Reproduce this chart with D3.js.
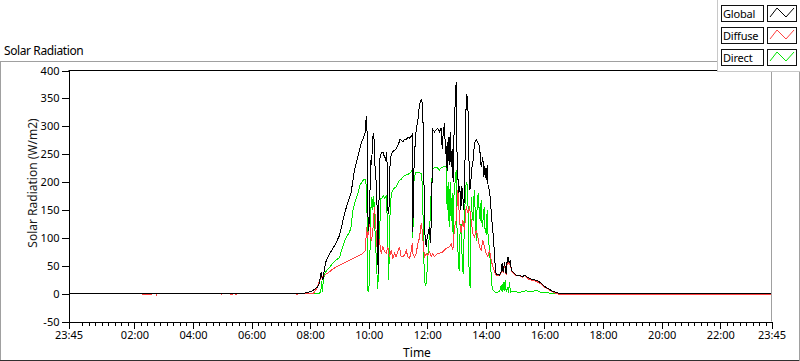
<!DOCTYPE html>
<html><head><meta charset="utf-8">
<script src="https://cdn.jsdelivr.net/npm/d3@7"></script>
<style>
html,body{margin:0;padding:0;background:#fff;}
svg{display:block;font-family:"Noto Sans",sans-serif;}
</style></head><body>
<svg id="chart" width="800" height="361"></svg>
<script>
// ---------- DATA (time = minutes after midnight; 23:45 of previous day = -15) ----------
const chartTitle = "Solar Radiation";
const yTitle = "Solar Radiation (W/m2)";
const xTitle = "Time";
const seriesNames = ["Global", "Diffuse", "Direct"];
const seriesColors = ["#000000", "#ff4040", "#00e600"];

const yTickValues = [-50, 0, 50, 100, 150, 200, 250, 300, 350, 400];
const xTickMinutes = [-15, 120, 240, 360, 480, 600, 720, 840, 960, 1080, 1200, 1320, 1425];
const xTickLabels = ["23:45", "02:00", "04:00", "06:00", "08:00", "10:00", "12:00", "14:00", "16:00", "18:00", "20:00", "22:00", "23:45"];

const globalTime = [-15,417.2,458.2,468.4,478.7,485.5,488.9,495.7,499.1,502.6,504.6,506.0,509.4,512.8,519.6,529.9,540.1,550.3,557.2,564.0,570.8,577.7,584.5,589.3,593.4,594.7,596.8,598.8,601.6,603.6,605.7,608.4,610.4,612.5,615.2,617.3,619.3,622.0,625.5,628.9,632.3,634.3,637.1,639.1,641.2,643.9,646.6,649.4,652.8,656.2,659.6,661.6,664.4,667.1,669.8,673.3,676.7,680.1,683.5,686.9,689.0,690.3,691.7,693.7,697.2,700.6,704.0,707.4,709.4,711.5,712.9,714.9,717.6,719.7,721.7,724.5,726.5,728.6,731.3,734.7,738.1,741.5,744.9,748.4,750.4,752.5,755.2,757.2,758.6,760.6,762.7,764.7,766.8,768.8,770.9,772.9,775.0,777.0,779.1,780.4,782.5,784.5,786.6,788.6,790.7,792.7,794.8,796.8,798.9,800.9,803.0,805.0,807.1,809.1,811.2,813.2,816.6,820.1,823.5,826.9,830.3,833.7,835.8,837.8,840.5,842.6,844.6,847.4,849.4,851.5,854.2,856.2,858.3,861.0,864.4,867.9,871.3,873.3,875.4,878.1,881.5,883.6,885.6,887.7,889.7,892.4,895.2,902.0,908.8,915.6,919.1,922.5,929.3,936.1,943.0,949.8,963,977,991,1425];
const globalValue = [0,0,0,1,3,5,8,12,20,39,28,25,45,59,71,86,104,143,164,182,221,245,269,280,290,318,287,113,131,240,230,282,287,233,200,150,35,240,252,254,245,240,254,150,143,240,250,255,257,260,265,270,277,274,272,277,276,280,279,282,285,110,200,250,294,310,339,348,342,300,213,108,84,100,108,120,90,143,294,290,294,296,290,297,260,288,306,250,264,220,280,230,290,227,260,200,300,340,380,264,210,180,192,150,192,174,150,220,324,357,345,250,185,200,225,234,270,276,270,264,228,245,210,228,204,230,190,186,165,138,113,90,58,35,34,33,40,55,38,57,35,60,66,55,60,42,39,33,33,30,33,31,27,25,24,21,11,4,0,0];

const diffuseTime = [-15,136,137,155,156,164,165,166,297,298,299,317,318,321,322,326,327,329,330,452,453,454,485.5,488.9,492.3,495.7,499.1,502.6,506.0,512.8,519.6,526.4,533.3,540.1,546.9,553.8,560.6,567.4,574.2,581.1,587.9,591.3,593.4,595.4,597.5,599.5,601.6,603.6,605.7,608.4,610.4,611.8,613.9,615.2,616.6,618.6,620.7,622.7,625.5,628.9,632.3,635.7,639.1,642.5,645.9,649.4,652.8,656.2,659.6,663.0,666.4,669.8,673.3,676.7,680.1,683.5,686.9,689.0,690.3,693.7,697.2,700.6,704.0,707.4,709.4,712.2,714.2,717.6,721.0,724.5,727.9,731.3,734.7,738.1,741.5,744.9,751.8,758.6,765.4,768.8,772.3,775.7,779.1,781.1,782.5,784.5,786.6,789.3,792.7,796.2,799.6,803.0,806.4,809.8,813.2,816.6,820.1,823.5,826.9,830.3,833.7,837.1,840.5,844.0,847.4,850.8,854.2,857.6,861.0,864.4,867.9,871.3,873.3,875.4,878.1,881.5,883.6,885.6,887.7,889.7,892.4,895.2,902.0,908.8,915.6,919.1,922.5,929.3,936.1,943.0,949.8,963,977,990,1425];
const diffuseValue = [0,0,-2,-2,0,0,-2,0,0,-2,0,0,-2,-2,0,0,-2,-2,0,0,-2,0,0,3,8,15,22,28,30,35,39,44,48,51,54,57,60,63,66,69,72,75,78,120,100,110,138,100,95,113,140,156,131,110,84,125,100,90,72,84,75,72,84,66,78,63,72,66,75,84,66,66,69,78,66,63,75,90,72,66,72,90,100,126,114,84,66,72,69,75,66,72,66,69,72,72,75,81,84,90,78,120,132,160,186,156,125,108,132,114,156,144,156,132,108,102,114,102,84,78,96,84,72,66,78,60,48,39,33,33,32,38,50,37,52,34,55,60,52,56,40,37,32,32,29,32,29,25,24,22,19,10,3,-1.5,-1.5];

const directTime = [-15,499.1,501.9,503.9,505.3,506.6,509.4,512.8,519.6,526.4,533.3,540.1,546.9,553.8,560.6,564.0,567.4,572.2,577.7,582.4,587.9,591.3,593.4,595.4,596.8,598.1,600.2,602.2,604.3,606.3,608.4,610.4,612.5,614.5,616.6,618.6,620.7,622.7,624.8,627.5,630.2,633.0,635.7,637.7,639.1,640.5,641.8,643.9,646.6,649.4,652.8,656.2,659.6,663.0,666.4,669.8,673.3,676.7,680.1,683.5,686.9,689.0,690.3,692.4,694.4,697.2,700.6,704.0,707.4,709.4,711.5,713.5,715.6,717.6,719.7,721.7,724.5,726.5,728.6,731.3,734.7,738.1,741.5,744.9,748.4,751.8,755.2,758.6,760.6,762.7,764.7,766.8,768.8,770.9,772.9,775.0,777.0,779.1,781.1,783.2,785.2,787.3,789.3,791.4,793.4,795.5,797.5,799.6,801.6,803.7,805.7,807.8,809.8,811.9,813.9,816.0,818.0,820.1,822.1,824.2,826.2,828.3,830.3,832.3,834.4,836.4,838.5,840.5,842.6,844.6,846.7,848.7,850.8,852.8,855.6,858.3,861.0,864.4,867.9,871.3,873.3,875.4,877.4,879.5,881.5,884.2,886.3,888.3,890.4,893.1,895.2,902.0,908.8,915.6,922.5,929.3,936.1,943.0,949.8,970,985,1425];
const directValue = [0,0,5,22,3,20,35,40,47,55,60,65,85,101,110,120,149,165,179,195,203,205,204,190,130,5,3,60,150,173,150,175,120,80,40,8,80,120,170,172,175,170,176,140,100,25,60,155,180,185,190,191,198,203,205,209,212,213,214,215,218,221,100,200,212,218,218,217,215,200,130,40,15,18,42,78,108,150,198,224,226,227,225,222,226,227,228,229,150,200,120,200,130,180,100,190,200,221,100,70,40,120,125,60,35,110,170,200,196,150,30,10,174,140,130,185,150,95,160,180,150,130,168,120,135,155,110,108,150,100,85,60,35,10,5,3,2,3,4,15,3,20,4,25,3,12,2,20,2,4,3,3,2,4,5,3,4,6,3,1,0,0];

// ---------- LAYOUT ----------
const svg = d3.select("#chart");
svg.append("rect").attr("width", 800).attr("height", 361).attr("fill", "#fff");

const x = d3.scaleLinear().domain([-15, 1425]).range([68.5, 771.5]);
const y = d3.scaleLinear().domain([-50, 400]).range([321.5, 70.5]);

// outer frame
svg.append("line").attr("x1",0.5).attr("x2",0.5).attr("y1",61.5).attr("y2",360.5).attr("stroke","#a0a0a0");
svg.append("line").attr("x1",0).attr("x2",800).attr("y1",61.5).attr("y2",61.5).attr("stroke","#a0a0a0");
svg.append("line").attr("x1",0).attr("x2",800).attr("y1",360.5).attr("y2",360.5).attr("stroke","#303030");
svg.append("line").attr("x1",799.5).attr("x2",799.5).attr("y1",61.5).attr("y2",361).attr("stroke","#a0a0a0");

// title
svg.append("text").attr("x", 4).attr("y", 55).attr("font-size", 12).attr("letter-spacing", -0.4)
  .attr("fill", "#000").text(chartTitle);

// plot border (top black, right gray)
svg.append("line").attr("x1",68.5).attr("x2",771.5).attr("y1",70.5).attr("y2",70.5).attr("stroke","#000");
svg.append("line").attr("x1",771.5).attr("x2",771.5).attr("y1",70.5).attr("y2",321.5).attr("stroke","#a0a0a0");

// series (draw Direct, Diffuse, then Global on top)
svg.append("clipPath").attr("id","plotclip").append("rect")
  .attr("x",69).attr("y",71).attr("width",702).attr("height",250);
const line = d3.line().x(d => x(d[0])).y(d => y(d[1]));
const seriesData = [
  d3.zip(globalTime, globalValue),
  d3.zip(diffuseTime, diffuseValue),
  d3.zip(directTime, directValue)
];
const g = svg.append("g").attr("clip-path","url(#plotclip)");
[2, 1, 0].forEach(i => {
  g.append("path").datum(seriesData[i]).attr("d", line)
    .attr("fill","none").attr("stroke", seriesColors[i]).attr("stroke-width", 1)
    .attr("shape-rendering","crispEdges");
});

// y axis
const yAxis = d3.axisLeft(y).tickValues(yTickValues).tickSize(7).tickSizeOuter(0).tickPadding(2).tickFormat(d => d);
const ya = svg.append("g").attr("transform","translate(68.5,0)").call(yAxis);
ya.selectAll("path,line").attr("stroke","#000").attr("shape-rendering","crispEdges");
ya.selectAll("text").attr("font-size", 11).attr("fill","#000").attr("font-family","Noto Sans");

// x axis (major)
const xAxis = d3.axisBottom(x).tickValues(xTickMinutes).tickSize(7).tickSizeOuter(0).tickPadding(3)
  .tickFormat((d, i) => xTickLabels[i]);
const xa = svg.append("g").attr("transform","translate(0,321.5)").call(xAxis);
xa.selectAll("path,line").attr("stroke","#000").attr("shape-rendering","crispEdges");
xa.selectAll("text").attr("font-size", 11).attr("fill","#000").attr("font-family","Noto Sans");

// x axis minor ticks (8 between each pair of majors)
const minorStep = 120 / 9;
const minorTicks = d3.range(-10, 100).map(k => 120 + k * minorStep)
  .filter(m => m > -14 && m < 1424 && Math.abs(((m - 120) / 120) - Math.round((m - 120) / 120)) > 1e-6);
const xm = svg.append("g").attr("transform","translate(0,321.5)")
  .call(d3.axisBottom(x).tickValues(minorTicks).tickSize(4).tickFormat(""));
xm.select(".domain").remove();
xm.selectAll("line").attr("stroke","#000").attr("shape-rendering","crispEdges");

// axis titles
svg.append("text").attr("transform","translate(37,183) rotate(-90)").attr("text-anchor","middle")
  .attr("font-size", 12).attr("fill","#1a1a1a").text(yTitle);
svg.append("text").attr("x", 417).attr("y", 357).attr("text-anchor","middle")
  .attr("font-size", 12).attr("fill","#000").text(xTitle);

// legend
const lg = svg.append("g");
lg.append("rect").attr("x",717.5).attr("y",-1).attr("width",90).attr("height",72.5)
  .attr("fill","#fff").attr("stroke","#c8c8c8");
const rowTops = [5, 27, 49];
seriesNames.forEach((name, i) => {
  const top = rowTops[i];
  lg.append("rect").attr("x",721.5).attr("y",top+0.5).attr("width",42).attr("height",16)
    .attr("fill","#fff").attr("stroke","#101010");
  lg.append("text").attr("x",723).attr("y",top+12.5).attr("font-size",11).attr("letter-spacing",-0.2)
    .attr("fill","#000").text(name);
  lg.append("rect").attr("x",767.5).attr("y",top+0.5).attr("width",29).attr("height",16)
    .attr("fill","#fff").attr("stroke","#101010");
  lg.append("polyline")
    .attr("points", [[770,top+12],[777,top+3],[786,top+12],[794,top+3]].map(p => p.join(",")).join(" "))
    .attr("fill","none").attr("stroke", seriesColors[i]).attr("stroke-width",1);
});
</script>
</body></html>
